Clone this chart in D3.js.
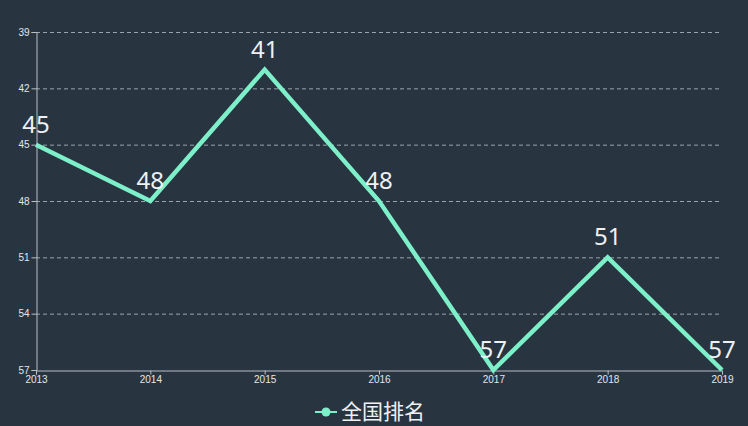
<!DOCTYPE html>
<html>
<head>
<meta charset="utf-8">
<script src="https://cdn.jsdelivr.net/npm/d3@7"></script>
<style>
  html, body { margin: 0; padding: 0; background: #283541; }
  svg { display: block; font-family: "Noto Sans", "Noto Sans CJK SC", sans-serif; }
</style>
</head>
<body>
<svg width="748" height="426"></svg>
<script>
// 全国排名 by year
var years = ["2013", "2014", "2015", "2016", "2017", "2018", "2019"];
var ranks = [45, 48, 41, 48, 57, 51, 57];
var yTicks = [39, 42, 45, 48, 51, 54, 57];
var seriesName = "全国排名";

var W = 748, H = 426;
var margin = {top: 32, right: 26, bottom: 56, left: 36};
var lineColor = "#7df0c9";

var svg = d3.select("svg");

var x = d3.scalePoint()
    .domain(years)
    .range([margin.left, W - margin.right]);

// ranking axis: smaller number is better, so it sits on top
var y = d3.scaleLinear()
    .domain([39, 57])
    .range([margin.top, H - margin.bottom]);

// grid
svg.append("g")
    .selectAll("line")
    .data(yTicks.slice(0, -1))
    .enter().append("line")
    .attr("x1", margin.left)
    .attr("x2", W - margin.right)
    .attr("y1", d => y(d) + 0.5)
    .attr("y2", d => y(d) + 0.5)
    .attr("stroke", "#9aa3ab")
    .attr("stroke-dasharray", "4,3");

var yAxis = svg.append("g")
    .attr("transform", "translate(" + (margin.left + 0.5) + ",0)")
    .call(d3.axisLeft(y).tickValues(yTicks).tickSize(5).tickPadding(2));

var xAxis = svg.append("g")
    .attr("transform", "translate(0," + (H - margin.bottom + 0.5) + ")")
    .call(d3.axisBottom(x).tickSize(4).tickPadding(1));

[xAxis, yAxis].forEach(function (g) {
    g.selectAll("path, line").attr("stroke", "#b9bfc4");
    g.selectAll("text")
        .attr("fill", "#e4e6e8")
        .style("font-size", "10px");
});

var line = d3.line()
    .x((d, i) => x(years[i]))
    .y(d => y(d));

svg.append("path")
    .datum(ranks)
    .attr("fill", "none")
    .attr("stroke", lineColor)
    .attr("stroke-width", 4.5)
    .attr("stroke-linejoin", "miter")
    .attr("d", line);

svg.append("g")
    .selectAll("text")
    .data(ranks)
    .enter().append("text")
    .attr("x", (d, i) => x(years[i]))
    .attr("y", d => y(d) - 12)
    .attr("text-anchor", "middle")
    .attr("fill", "#eef0f2")
    .style("font-size", "24px")
    .text(d => d);

// legend
var lg = svg.append("g").attr("transform", "translate(315,412)");
lg.append("line")
    .attr("x1", 0).attr("x2", 22)
    .attr("stroke", lineColor)
    .attr("stroke-width", 2);
lg.append("circle")
    .attr("cx", 11)
    .attr("r", 4.5)
    .attr("fill", lineColor);
lg.append("text")
    .attr("x", 26)
    .attr("dy", "0.35em")
    .attr("fill", "#eef0f2")
    .style("font-size", "21px")
    .style("font-family", "'Noto Sans CJK SC', sans-serif")
    .text(seriesName);
</script>
</body>
</html>
